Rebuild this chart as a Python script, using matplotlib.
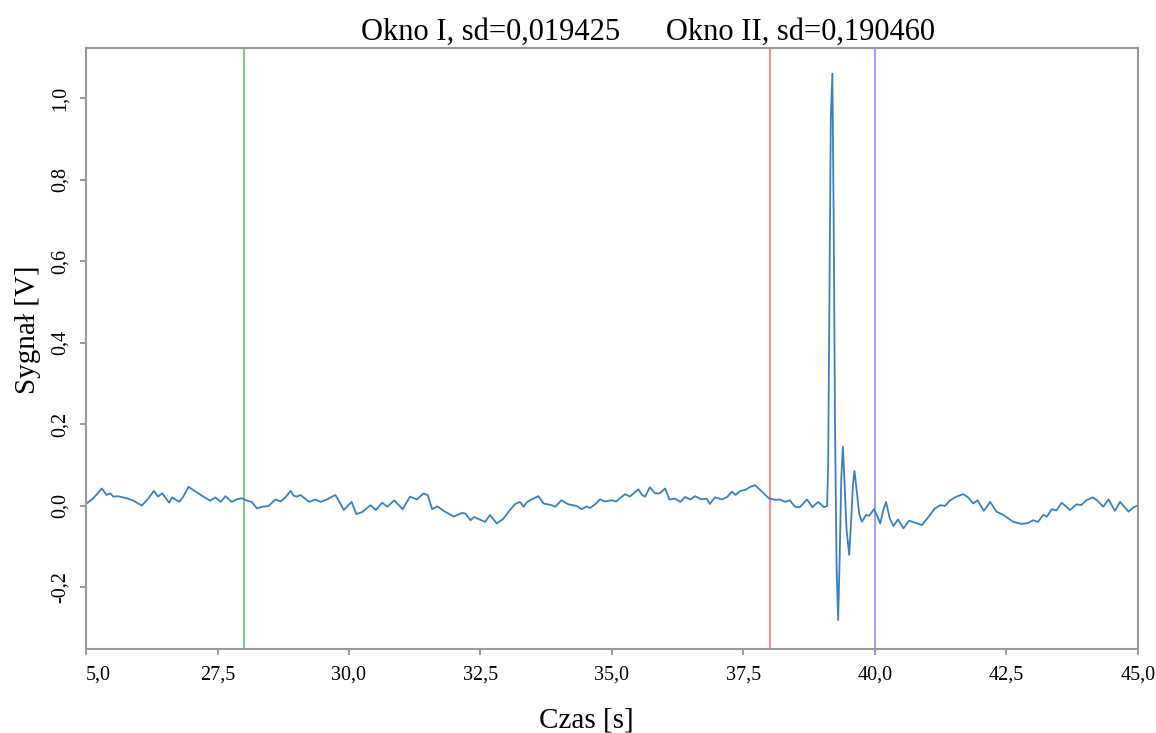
import matplotlib
matplotlib.use("Agg")
import matplotlib.pyplot as plt

# ---------------------------------------
# Data
# ---------------------------------------

time_s = [
    25.01, 25.14, 25.30, 25.39, 25.46, 25.52, 25.61, 25.77, 25.90, 26.06,
    26.19, 26.29, 26.37, 26.45, 26.58, 26.64, 26.77, 26.84, 26.95, 27.04,
    27.23, 27.36, 27.46, 27.56, 27.65, 27.77, 27.86, 27.96, 28.06, 28.15,
    28.25, 28.35, 28.47, 28.60, 28.70, 28.79, 28.89, 28.95, 29.01, 29.08,
    29.24, 29.36, 29.46, 29.58, 29.74, 29.80, 29.90, 29.96, 30.05, 30.14,
    30.25, 30.41, 30.51, 30.63, 30.73, 30.86, 31.02, 31.16, 31.29, 31.42,
    31.50, 31.58, 31.68, 31.80, 31.99, 32.15, 32.22, 32.31, 32.38, 32.46,
    32.59, 32.68, 32.81, 32.93, 33.06, 33.16, 33.25, 33.32, 33.38, 33.47,
    33.60, 33.70, 33.85, 33.92, 34.04, 34.17, 34.33, 34.42, 34.52, 34.58,
    34.68, 34.77, 34.87, 34.99, 35.08, 35.15, 35.25, 35.34, 35.50, 35.57,
    35.63, 35.72, 35.82, 35.91, 36.01, 36.09, 36.20, 36.30, 36.39, 36.49,
    36.58, 36.70, 36.80, 36.86, 36.96, 37.09, 37.19, 37.28, 37.35, 37.44,
    37.53, 37.63, 37.72, 37.82, 37.98, 38.10, 38.19, 38.29, 38.38, 38.48,
    38.57, 38.71, 38.81, 38.92, 39.03, 39.09, 39.11, 39.13, 39.16, 39.19,
    39.215, 39.24, 39.27, 39.30, 39.33, 39.36, 39.39, 39.42, 39.46, 39.51,
    39.55, 39.58, 39.61, 39.65, 39.70, 39.75, 39.83, 39.89, 39.98, 40.04,
    40.10, 40.16, 40.21, 40.28, 40.35, 40.44, 40.54, 40.65, 40.76, 40.89,
    41.01, 41.14, 41.24, 41.33, 41.43, 41.55, 41.68, 41.77, 41.87, 41.95,
    42.07, 42.19, 42.31, 42.44, 42.63, 42.79, 42.91, 43.01, 43.10, 43.20,
    43.27, 43.36, 43.45, 43.55, 43.62, 43.71, 43.83, 43.92, 44.02, 44.14,
    44.23, 44.34, 44.44, 44.56, 44.66, 44.82, 44.91, 45.00,
]

signal_v = [
    0.005, 0.018, 0.042, 0.026, 0.030, 0.022, 0.023, 0.018, 0.012, 0.000,
    0.018, 0.036, 0.022, 0.030, 0.007, 0.020, 0.009, 0.020, 0.046, 0.038,
    0.022, 0.012, 0.020, 0.009, 0.023, 0.009, 0.015, 0.018, 0.012, 0.009,
    -0.007, -0.003, -0.001, 0.015, 0.010, 0.020, 0.036, 0.024, 0.022, 0.026,
    0.009, 0.015, 0.009, 0.015, 0.026, 0.013, -0.011, -0.003, 0.009, -0.021,
    -0.016, 0.001, -0.011, 0.007, -0.003, 0.013, -0.009, 0.022, 0.015, 0.030,
    0.025, -0.009, -0.002, -0.013, -0.027, -0.018, -0.020, -0.036, -0.028, -0.033,
    -0.040, -0.023, -0.044, -0.033, -0.011, 0.004, 0.009, -0.003, 0.008, 0.015,
    0.023, 0.005, 0.001, -0.003, 0.013, 0.003, -0.001, -0.009, -0.002, -0.006,
    0.003, 0.015, 0.010, 0.013, 0.010, 0.018, 0.028, 0.022, 0.040, 0.026,
    0.022, 0.045, 0.030, 0.030, 0.042, 0.015, 0.017, 0.009, 0.021, 0.015,
    0.023, 0.015, 0.017, 0.004, 0.020, 0.015, 0.021, 0.034, 0.026, 0.036,
    0.038, 0.046, 0.050, 0.038, 0.018, 0.014, 0.015, 0.009, 0.013, -0.003,
    -0.004, 0.015, -0.004, 0.009, -0.004, -0.001, 0.10, 0.45, 0.95, 1.06,
    0.70, 0.20, -0.15, -0.281, -0.12, 0.07, 0.144, 0.06, -0.06, -0.121,
    -0.03, 0.05, 0.085, 0.04, -0.02, -0.040, -0.023, -0.025, -0.009, -0.025,
    -0.044, -0.010, 0.009, -0.031, -0.050, -0.034, -0.056, -0.037, -0.042, -0.048,
    -0.029, -0.007, 0.001, -0.001, 0.013, 0.022, 0.028, 0.020, 0.005, 0.013,
    -0.013, 0.009, -0.015, -0.023, -0.040, -0.045, -0.043, -0.036, -0.040, -0.023,
    -0.027, -0.009, -0.012, 0.007, -0.001, -0.011, 0.003, 0.001, 0.013, 0.020,
    0.012, -0.003, 0.015, -0.013, 0.009, -0.015, -0.005, 0.001,
]

# window markers
marker_times = [28.0, 38.0, 40.0]
marker_colors = ["#86c886", "#ff8c8c", "#a0a0ff"]

x_ticks = [25.0, 27.5, 30.0, 32.5, 35.0, 37.5, 40.0, 42.5, 45.0]
x_tick_labels = ["5,0", "27,5", "30,0", "32,5", "35,0", "37,5", "40,0", "42,5", "45,0"]
y_ticks = [-0.2, 0.0, 0.2, 0.4, 0.6, 0.8, 1.0]
y_tick_labels = ["-0,2", "0,0", "0,2", "0,4", "0,6", "0,8", "1,0"]

title = "Okno I, sd=0,019425      Okno II, sd=0,190460"

# ---------------------------------------
# Plot
# ---------------------------------------

plt.rcParams["font.family"] = ["Liberation Serif", "DejaVu Serif"]

fig = plt.figure(figsize=(11.56, 7.33), dpi=100)
ax = fig.add_axes([0.0744, 0.1146, 0.9100, 0.8200])

for t, c in zip(marker_times, marker_colors):
    ax.axvline(t, color=c, linewidth=1.5, zorder=1)

ax.plot(time_s, signal_v, color="#3a80c0", linewidth=1.3, zorder=2)

ax.set_xlim(25.0, 45.0)
ax.set_ylim(-0.352, 1.123)

ax.set_xticks(x_ticks)
ax.set_xticklabels(x_tick_labels, fontsize=14.5)
ax.get_xticklabels()[0].set_horizontalalignment("left")
ax.set_yticks(y_ticks)
ax.set_yticklabels(y_tick_labels, fontsize=14.5, rotation=90, va="center")

ax.tick_params(axis="both", direction="out", length=4, width=1.2,
               color="#888888")
ax.tick_params(axis="x", pad=8)
ax.tick_params(axis="y", pad=8)

for spine in ax.spines.values():
    spine.set_color("#999999")
    spine.set_linewidth(1.5)

ax.set_title(title, fontsize=22, x=0.534, pad=6)
ax.set_xlabel("Czas [s]", fontsize=21, labelpad=8)
ax.xaxis.set_label_coords(0.476, -0.098)
ax.set_ylabel("Sygnał [V]", fontsize=21)
ax.yaxis.set_label_coords(-0.043, 0.531)

fig.savefig("out.png", dpi=100)
plt.close(fig)
